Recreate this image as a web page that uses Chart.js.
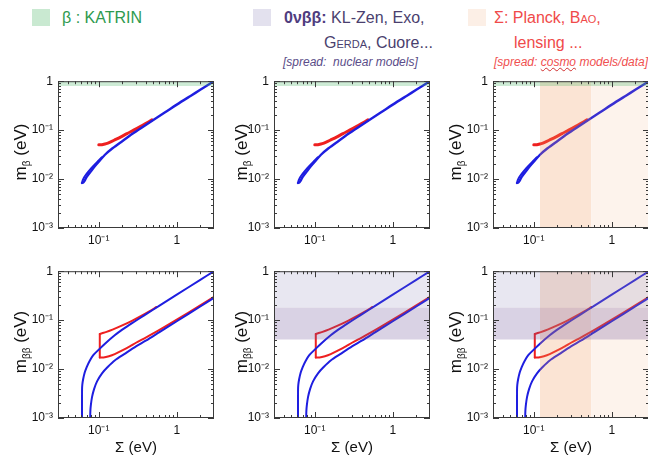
<!DOCTYPE html>
<html><head><meta charset="utf-8">
<script src="https://cdn.jsdelivr.net/npm/chart.js@4.4.1/dist/chart.umd.min.js"></script>
<style>
body{margin:0;background:#fff;}
#wrap{position:relative;width:648px;height:455px;overflow:hidden;font-family:"Liberation Sans",Arial,Helvetica,sans-serif;}
.abs{position:absolute;white-space:nowrap;line-height:1;}
.sq{position:absolute;width:18px;height:17px;}
.yt{position:absolute;white-space:nowrap;font-size:17px;color:#111;transform:translate(-50%,-50%) rotate(-90deg);line-height:1;}
.yt sub{font-size:10px;vertical-align:-4px;}
.xt{position:absolute;white-space:nowrap;font-size:15px;color:#111;transform:translate(-50%,-50%);line-height:1;}
canvas{position:absolute;}
.sc{font-variant:small-caps;}
</style>
</head><body>
<div id="wrap">
  <div class="sq" style="left:32px;top:9px;background:#c9e9d1"></div>
  <div class="abs" style="left:62px;top:10px;font-size:16px;color:#2e9a4e">β : KATRIN</div>

  <div class="sq" style="left:253px;top:9px;background:#e3e1ee"></div>
  <div class="abs" style="left:284px;top:10px;font-size:16px;color:#4a3f6e"><b style="color:#4f3d7f">0νββ:</b> KL-Zen, Exo,</div>
  <div class="abs" style="left:324px;top:35px;font-size:16px;color:#4a3f6e"><span class="sc">Gerda</span>, Cuore...</div>
  <div class="abs" style="left:283px;top:56px;font-size:12px;font-style:italic;color:#5a4c88">[spread:&nbsp; nuclear models]</div>

  <div class="sq" style="left:468px;top:9px;background:#fcefe6"></div>
  <div class="abs" style="left:494px;top:10px;font-size:16px;color:#f04a4a">Σ: Planck, <span class="sc">Bao</span>,</div>
  <div class="abs" style="left:514px;top:35px;font-size:16px;color:#f04a4a">lensing ...</div>
  <div class="abs" style="left:494px;top:56px;font-size:12px;font-style:italic;color:#f05050">[spread: <span style="text-decoration:underline wavy #d03030;text-decoration-thickness:1px">cosmo</span> models/data]</div>

  <canvas id="c00" width="212" height="181" style="left:10px;top:69px"></canvas>
  <canvas id="c01" width="212" height="181" style="left:226px;top:69px"></canvas>
  <canvas id="c02" width="212" height="181" style="left:445px;top:69px"></canvas>
  <canvas id="c10" width="212" height="181" style="left:10px;top:259px"></canvas>
  <canvas id="c11" width="212" height="181" style="left:226px;top:259px"></canvas>
  <canvas id="c12" width="212" height="181" style="left:445px;top:259px"></canvas>

  <div class="yt" style="left:22px;top:152px">m<sub>β</sub> (eV)</div>
  <div class="yt" style="left:243px;top:152px">m<sub>β</sub> (eV)</div>
  <div class="yt" style="left:457px;top:152px">m<sub>β</sub> (eV)</div>
  <div class="yt" style="left:22px;top:342px">m<sub>ββ</sub> (eV)</div>
  <div class="yt" style="left:243px;top:342px">m<sub>ββ</sub> (eV)</div>
  <div class="yt" style="left:457px;top:342px">m<sub>ββ</sub> (eV)</div>

  <div class="xt" style="left:136px;top:446px">Σ (eV)</div>
  <div class="xt" style="left:352px;top:446px">Σ (eV)</div>
  <div class="xt" style="left:571px;top:446px">Σ (eV)</div>
</div>
<script>
// ---------- axis ranges and ticks ----------
const xRange = [0.03, 3];
const yRange = [0.001, 1];
const xMajorTicks = [0.1, 1];
const xTickLabels = ['10⁻¹', '1'];
const xMinorTicks = [0.04,0.05,0.06,0.07,0.08,0.09,0.2,0.3,0.4,0.5,0.6,0.7,0.8,0.9,2];
const yMajorTicks = [0.001, 0.01, 0.1, 1];
const yTickLabels = ['10⁻³', '10⁻²', '10⁻¹', '1'];
const yMinorTicks = [0.002,0.003,0.004,0.005,0.006,0.007,0.008,0.009,0.02,0.03,0.04,0.05,0.06,0.07,0.08,0.09,0.2,0.3,0.4,0.5,0.6,0.7,0.8,0.9];

// ---------- bands ----------
const katrinBand = [0.8, 1];         // m_beta limit
const dbdLightBand = [0.18, 1];      // 0vbb (light)
const dbdDarkBand = [0.04, 0.18];    // 0vbb (dark)
const cosmoDarkBand = [0.12, 0.55];  // Sigma (dark)
const cosmoLightBand = [0.55, 3];    // Sigma (light)

// ---------- m_beta vs Sigma ----------
const nhMbetaSigma = [0.061, 0.063, 0.066, 0.07, 0.08, 0.09, 0.1, 0.12, 0.15, 0.2, 0.27, 0.35, 0.5, 0.7, 1.0, 1.5, 2.0, 3.0];
const nhMbetaVal   = [0.0083, 0.0085, 0.0093, 0.0111, 0.0147, 0.0187, 0.0227, 0.0314, 0.0425, 0.0595, 0.084, 0.111, 0.161, 0.228, 0.332, 0.5, 0.666, 1.0];
const nhMbetaEdgeSigma = [0.061, 0.0622, 0.0645, 0.068, 0.074, 0.083, 0.095, 0.11];
const nhMbetaEdgeVal   = [0.0084, 0.0094, 0.0106, 0.0121, 0.0143, 0.0177, 0.0222, 0.028];
const ioMbetaSigma = [0.1, 0.105, 0.113, 0.125, 0.14, 0.16, 0.19, 0.23, 0.28, 0.34, 0.41, 0.48];
const ioMbetaVal   = [0.05, 0.0502, 0.051, 0.053, 0.057, 0.063, 0.072, 0.085, 0.1, 0.118, 0.14, 0.162];

// ---------- m_bb vs Sigma ----------
const nhUpperSigma = [0.061, 0.061, 0.0615, 0.063, 0.066, 0.07, 0.076, 0.085, 0.1, 0.12, 0.16, 0.2, 0.27, 0.4, 0.6, 1.0, 2.0, 3.0];
const nhUpperVal   = [0.001, 0.0038, 0.0048, 0.0062, 0.0085, 0.011, 0.0145, 0.0192, 0.025, 0.033, 0.049, 0.064, 0.088, 0.131, 0.198, 0.332, 0.666, 1.0];
const nhLowerSigma = [0.0776, 0.078, 0.079, 0.082, 0.087, 0.095, 0.11, 0.13, 0.16, 0.22, 0.3, 0.4, 0.6, 1.0, 2.0, 3.0];
const nhLowerVal   = [0.001, 0.0014, 0.0018, 0.0027, 0.0039, 0.0056, 0.0082, 0.011, 0.015, 0.021, 0.029, 0.038, 0.057, 0.095, 0.19, 0.285];
const ioUpperSigma = [0.103, 0.11, 0.123, 0.15, 0.2, 0.27, 0.35, 0.45, 0.55];
const ioUpperVal   = [0.052, 0.054, 0.057, 0.064, 0.078, 0.098, 0.122, 0.153, 0.186];
const ioEdgeSigma  = [0.103, 0.103];
const ioEdgeVal    = [0.052, 0.0172];
const ioLowerSigma = [0.103, 0.115, 0.135, 0.16, 0.2, 0.25, 0.3, 0.4, 0.6, 1.0, 2.0, 3.0];
const ioLowerVal   = [0.0172, 0.0172, 0.0183, 0.0202, 0.024, 0.029, 0.0345, 0.044, 0.063, 0.102, 0.2, 0.3];

// ---------- helpers ----------
const BLUE = '#1e1ee0', RED = '#ee2020';
const pts = (xs, ys) => xs.map((x, i) => ({x: x, y: ys[i]}));
function lineDs(xs, ys, color, width, order, tension) {
  return {data: pts(xs, ys), borderColor: color, borderWidth: width, pointRadius: 0,
          tension: tension === undefined ? 0.3 : tension, fill: false, order: order,
          borderCapStyle: 'round', borderJoinStyle: 'round'};
}
function hBand(b, color) {
  return {data: pts(xRange, [b[1], b[1]]), borderColor: 'rgba(0,0,0,0)', borderWidth: 0,
          pointRadius: 0, backgroundColor: color, fill: {value: b[0]}, order: 0, tension: 0};
}
function vBand(b, color) {
  return {data: pts(b, [yRange[1], yRange[1]]), borderColor: 'rgba(0,0,0,0)', borderWidth: 0,
          pointRadius: 0, backgroundColor: color, fill: {value: yRange[0]}, order: 0, tension: 0};
}
const C_GREEN = 'rgba(70,180,100,0.27)';
const C_LAV_L = 'rgba(120,115,170,0.17)';
const C_LAV_D = 'rgba(110,80,150,0.26)';
const C_OR_D  = 'rgba(240,150,90,0.26)';
const C_OR_L  = 'rgba(240,160,110,0.13)';

const frameTicks = {
  id: 'frameTicks',
  afterDatasetsDraw(chart) {
    const {ctx, chartArea: a, scales} = chart;
    const x = scales.x, y = scales.y;
    ctx.save();
    ctx.strokeStyle = '#3a3a3a';
    ctx.lineWidth = 1;
    ctx.beginPath();
    const xt = (vals, len) => vals.forEach(v => {
      const p = Math.round(x.getPixelForValue(v)) + 0.5;
      ctx.moveTo(p, a.bottom); ctx.lineTo(p, a.bottom - len);
      ctx.moveTo(p, a.top); ctx.lineTo(p, a.top + len);
    });
    const yt = (vals, len) => vals.forEach(v => {
      const p = Math.round(y.getPixelForValue(v)) + 0.5;
      ctx.moveTo(a.left, p); ctx.lineTo(a.left + len, p);
      ctx.moveTo(a.right, p); ctx.lineTo(a.right - len, p);
    });
    xt(xMajorTicks, 6); xt(xMinorTicks, 3);
    yt(yMajorTicks, 6); yt(yMinorTicks, 3);
    ctx.stroke();
    ctx.strokeRect(a.left + 0.5, a.top + 0.5, a.right - a.left - 1, a.bottom - a.top - 1);
    ctx.restore();
  }
};

function makePanel(id, row, col) {
  const ds = [];
  if (row === 0) {
    ds.push(hBand(katrinBand, C_GREEN));
    if (col === 2) { ds.push(vBand(cosmoDarkBand, C_OR_D)); ds.push(vBand(cosmoLightBand, C_OR_L)); }
    ds.push(lineDs(nhMbetaSigma, nhMbetaVal, BLUE, 2.4, 1));
    ds.push(lineDs(nhMbetaEdgeSigma, nhMbetaEdgeVal, BLUE, 2, 1));
    ds.push(lineDs(ioMbetaSigma, ioMbetaVal, RED, 3, 2));
  } else {
    if (col >= 1) { ds.push(hBand(dbdLightBand, C_LAV_L)); ds.push(hBand(dbdDarkBand, C_LAV_D)); }
    if (col === 2) { ds.push(vBand(cosmoDarkBand, C_OR_D)); ds.push(vBand(cosmoLightBand, C_OR_L)); }
    ds.push(lineDs(nhUpperSigma, nhUpperVal, BLUE, 2, 1));
    ds.push(lineDs(nhLowerSigma, nhLowerVal, BLUE, 2, 1));
    ds.push(lineDs(ioUpperSigma, ioUpperVal, RED, 2, 2));
    ds.push(lineDs(ioEdgeSigma, ioEdgeVal, RED, 2, 2, 0));
    ds.push(lineDs(ioLowerSigma, ioLowerVal, RED, 2, 2));
  }
  const tickFont = {family: '"Liberation Sans", Arial, sans-serif', size: 12};
  new Chart(document.getElementById(id), {
    type: 'line',
    data: {datasets: ds},
    options: {
      responsive: false, animation: false, devicePixelRatio: 1,
      layout: {padding: {left: 0, top: 8, right: 8, bottom: 0}},
      plugins: {legend: {display: false}, tooltip: {enabled: false}},
      scales: {
        x: {type: 'logarithmic', min: xRange[0], max: xRange[1],
            grid: {display: false, drawTicks: false}, border: {display: false},
            afterBuildTicks: s => { s.ticks = xMajorTicks.map(v => ({value: v})); },
            afterFit: s => { s.height = 22; },
            ticks: {autoSkip: false, maxRotation: 0, padding: 5, color: '#111', font: tickFont,
                    callback: (v, i) => xTickLabels[i]}},
        y: {type: 'logarithmic', min: yRange[0], max: yRange[1],
            grid: {display: false, drawTicks: false}, border: {display: false},
            afterBuildTicks: s => { s.ticks = yMajorTicks.map(v => ({value: v})); },
            afterFit: s => { s.width = 48; },
            ticks: {autoSkip: false, padding: 5, color: '#111', font: tickFont,
                    callback: (v, i) => yTickLabels[i]}}
      }
    },
    plugins: [frameTicks]
  });
}
for (let r = 0; r < 2; r++) for (let c = 0; c < 3; c++) makePanel('c' + r + c, r, c);
</script>
</body></html>
